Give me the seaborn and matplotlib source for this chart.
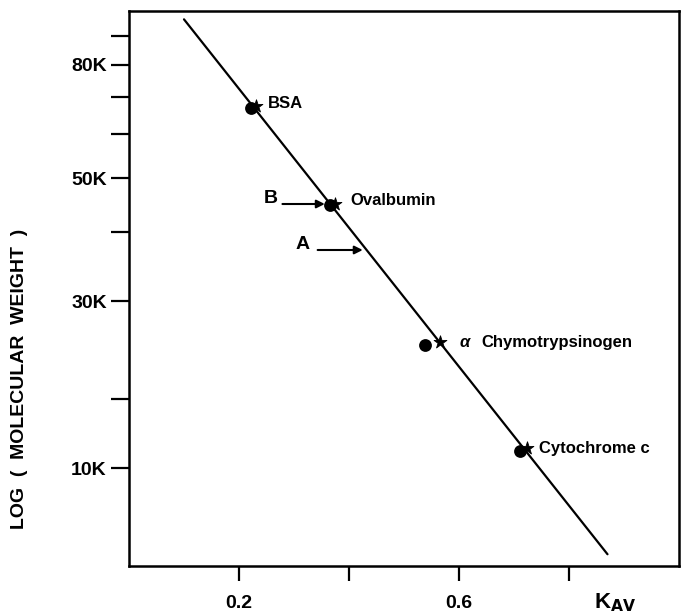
import matplotlib
matplotlib.use("Agg")
import matplotlib.pyplot as plt
import seaborn as sns
import pandas as pd

# ---- data ----
proteins = ["BSA", "Ovalbumin", "Chymotrypsinogen", "Cytochrome c"]
kav_dot = [0.222, 0.365, 0.539, 0.711]
kav_star = [0.231, 0.374, 0.566, 0.724]
mw_dot = [67000, 44700, 25000, 16100]
mw_star = [67500, 44900, 25300, 16300]

line_kav = [0.10, 0.87]
line_mw = [96600, 10500]

y_tick_values = [90000, 80000, 70000, 60000, 50000, 40000, 30000, 20000, 15000]
y_tick_labels = ["", "80K", "", "", "50K", "", "30K", "", "10K"]
x_tick_values = [0.2, 0.4, 0.6, 0.8]
x_tick_labels = ["0.2", "", "0.6", ""]

# annotation labels (text, x, y)
label_text = ["BSA", "Ovalbumin", "\u03b1", "Chymotrypsinogen", "Cytochrome c"]
label_x = [0.252, 0.403, 0.601, 0.641, 0.746]
label_y = [68000, 45600, 25300, 25300, 16300]

# arrows: label, label x, label y, arrow start x, arrow end x, arrow y
arrow_names = ["B", "A"]
arrow_label_x = [0.258, 0.316]
arrow_label_y = [46000, 38000]
arrow_x0 = [0.279, 0.343]
arrow_x1 = [0.356, 0.425]
arrow_y = [44900, 37100]

sns.set_style("ticks")
plt.rcParams["font.family"] = ["Liberation Sans", "DejaVu Sans"]
plt.rcParams["font.weight"] = "bold"
plt.rcParams["text.color"] = "black"
plt.rcParams["axes.labelcolor"] = "black"
plt.rcParams["xtick.color"] = "black"
plt.rcParams["ytick.color"] = "black"
plt.rcParams["axes.edgecolor"] = "black"

fig = plt.figure(figsize=(6.86, 6.16), dpi=100)
ax = fig.add_axes([129 / 686, 1 - 566 / 616, 550 / 686, 555 / 616])

df_line = pd.DataFrame({"kav": line_kav, "mw": line_mw})
sns.lineplot(data=df_line, x="kav", y="mw", ax=ax, color="black", linewidth=1.6)

df_dot = pd.DataFrame({"kav": kav_dot, "mw": mw_dot, "protein": proteins})
df_star = pd.DataFrame({"kav": kav_star, "mw": mw_star, "protein": proteins})
sns.scatterplot(data=df_dot, x="kav", y="mw", ax=ax, color="black", s=85,
                marker="o", edgecolor="black", linewidth=0, zorder=3)
sns.scatterplot(data=df_star, x="kav", y="mw", ax=ax, color="black", s=95,
                marker="*", edgecolor="black", linewidth=0.6, zorder=3)

ax.set_yscale("log")
ax.set_xlim(0, 1.0)
ax.set_ylim(10000, 100000)

ax.set_yticks(y_tick_values)
ax.set_yticklabels(y_tick_labels)
ax.yaxis.set_minor_locator(matplotlib.ticker.NullLocator())
ax.set_xticks(x_tick_values)
ax.set_xticklabels(x_tick_labels)

ax.tick_params(axis="y", length=13, width=1.6, direction="out", pad=3,
               labelsize=14, colors="black")
ax.tick_params(axis="x", length=11, width=1.6, direction="out", pad=10,
               labelsize=14, colors="black")
for lab in ax.get_xticklabels() + ax.get_yticklabels():
    lab.set_fontweight("bold")

for sp in ax.spines.values():
    sp.set_linewidth(1.8)
    sp.set_color("black")
    sp.set_visible(True)

ax.set_xlabel("")
ax.set_ylabel("LOG  (  MOLECULAR  WEIGHT  )", fontsize=14, fontweight="bold",
              color="black")
ax.yaxis.set_label_coords(-0.183, 0.338)

ax.text(0.884, -0.066, "K$_{\\mathbf{AV}}$", transform=ax.transAxes,
        ha="center", va="center", fontsize=16, fontweight="bold")

for t, x, y in zip(label_text, label_x, label_y):
    style = "italic" if t == "\u03b1" else "normal"
    ax.text(x, y, t, ha="left", va="center", fontsize=12,
            fontweight="bold", fontstyle=style)

for n, lx, ly, x0, x1, ay in zip(arrow_names, arrow_label_x, arrow_label_y,
                                 arrow_x0, arrow_x1, arrow_y):
    ax.text(lx, ly, n, ha="center", va="center", fontsize=14, fontweight="bold")
    ax.annotate("", xy=(x1, ay), xytext=(x0, ay),
                arrowprops=dict(arrowstyle="-|>", color="black", lw=1.5,
                                mutation_scale=12, shrinkA=0, shrinkB=0))

fig.savefig("out.png", dpi=100)
